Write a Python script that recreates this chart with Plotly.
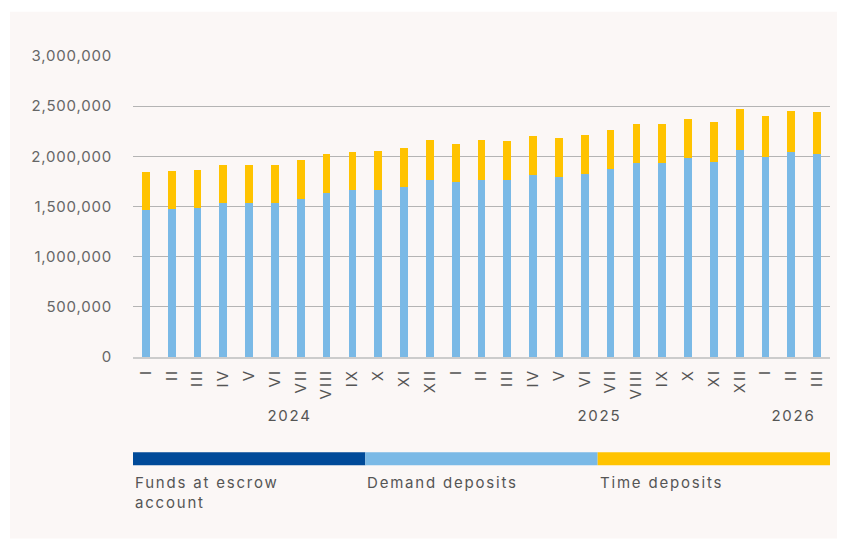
import plotly.graph_objects as go

months = ["I", "II", "III", "IV", "V", "VI", "VII", "VIII", "IX", "X", "XI", "XII"]
periods = months + months + months[:3]
years = ["2024", "2025", "2026"]
year_pos = [5.5, 17.5, 25]

escrow = [0] * 27
demand = [1470000, 1477000, 1483000, 1533000, 1530000, 1533000, 1579000, 1639000, 1665000,
          1669000, 1695000, 1768000, 1742000, 1768000, 1768000, 1814000, 1791000, 1828000,
          1874000, 1930000, 1937000, 1983000, 1947000, 2066000, 1993000, 2040000, 2026000]
total = [1844000, 1854000, 1864000, 1914000, 1914000, 1914000, 1963000, 2020000, 2046000,
         2053000, 2079000, 2159000, 2126000, 2159000, 2155000, 2202000, 2179000, 2208000,
         2263000, 2321000, 2324000, 2371000, 2341000, 2470000, 2400000, 2450000, 2444000]
time_dep = [t - d for t, d in zip(total, demand)]

names = ["Funds at escrow<br>account", "Demand deposits", "Time deposits"]
colors = ["#004A99", "#7AB9E6", "#FFC300"]

x = list(range(len(periods)))
fig = go.Figure()
for vals, name, col in zip([escrow, demand, time_dep], names, colors):
    fig.add_trace(go.Bar(x=x, y=vals, name=name, marker_color=col, marker_line_width=0))

fig.update_layout(
    barmode="stack",
    bargap=0.7,
    width=845, height=541,
    margin=dict(l=125, r=23, t=47, b=192),
    paper_bgcolor="white",
    plot_bgcolor="rgba(0,0,0,0)",
    showlegend=False,
    font=dict(family="Inter", color="#555555", size=15),
)
fig.update_xaxes(
    tickmode="array", tickvals=x, ticktext=periods, tickangle=-90,
    range=[-0.5, len(periods) - 0.5], showgrid=False,
    showline=True, linecolor="#cccccc", linewidth=2,
    tickfont=dict(size=15, color="#555555"), ticks="", ticklabelstandoff=4,
)
fig.update_yaxes(
    range=[0, 3010000], dtick=500000, tickformat=",d",
    showgrid=True, gridcolor="#b4b4b4", gridwidth=1, zeroline=False,
    tickfont=dict(size=15, color="#666666"), ticklabelstandoff=20,
)

# panel background
fig.add_shape(type="rect", xref="paper", yref="paper", x0=-0.1765, x1=1.0115,
              y0=-0.6013, y1=1.1429, fillcolor="#FBF7F6", line_width=0, layer="below")

for yr, pos in zip(years, year_pos):
    fig.add_annotation(x=pos + 0.08, y=-0.233, xref="x", yref="paper", text=yr, showarrow=False,
                       font=dict(size=15, color="#555555"))

# legend drawn as colour strip
for i, (name, col) in enumerate(zip(names, colors)):
    x0 = i / 3
    fig.add_shape(type="rect", xref="paper", yref="paper", x0=x0, x1=x0 + 1 / 3,
                  y0=-0.3588, y1=-0.3156, fillcolor=col, line_width=0)
    fig.add_annotation(x=x0, y=-0.378, xref="paper", yref="paper", text=name, showarrow=False,
                       xanchor="left", yanchor="top", align="left",
                       font=dict(size=15, color="#555555"))

# wider tracking like the original
js = """
var gd = document.getElementById('{plot_id}');
gd.querySelectorAll('.xtick text').forEach(function(t){t.style.letterSpacing='2px';});
gd.querySelectorAll('.ytick text').forEach(function(t){t.style.letterSpacing='0.8px';});
gd.querySelectorAll('.annotation-text').forEach(function(t){t.style.letterSpacing='1.8px';});
"""
fig.write_html("out.html", post_script=js)
